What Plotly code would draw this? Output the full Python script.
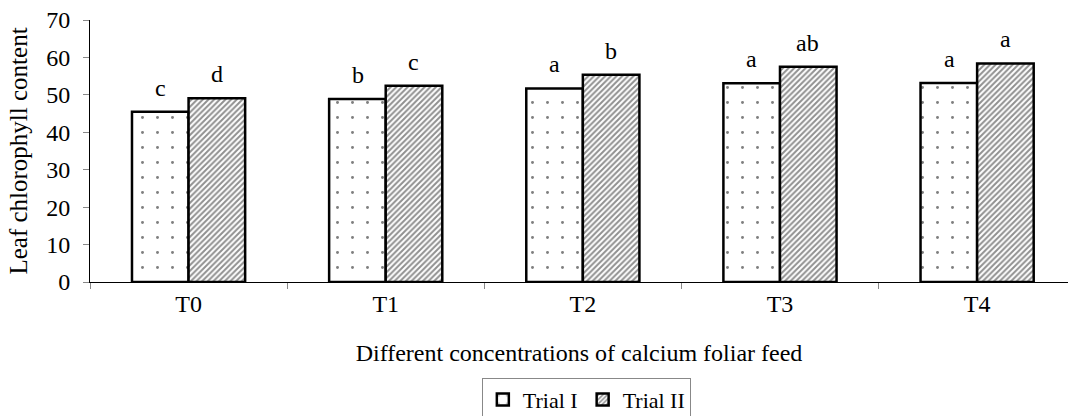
import plotly.graph_objects as go

treatments = ["T0", "T1", "T2", "T3", "T4"]
trial_1 = [45.5, 48.9, 51.7, 53.1, 53.2]
trial_2 = [49.1, 52.4, 55.4, 57.5, 58.4]
letters_1 = ["c", "b", "a", "a", "a"]
letters_2 = ["d", "c", "b", "ab", "a"]

serif = "Liberation Serif, Times New Roman, serif"

fig = go.Figure()

fig.add_trace(go.Bar(
    x=treatments, y=trial_1, name="Trial I",
    marker=dict(color="white", line=dict(color="black", width=2.5),
                pattern=dict(shape=".", fgcolor="black", bgcolor="white",
                             size=15, solidity=0.03))
))
fig.add_trace(go.Bar(
    x=treatments, y=trial_2, name="Trial II",
    marker=dict(color="white", line=dict(color="black", width=2.5),
                pattern=dict(shape="/", fgcolor="#222222", bgcolor="white",
                             size=4, solidity=0.5))
))

# significance letters
for i, t in enumerate(treatments):
    fig.add_annotation(x=t, y=trial_1[i], text=letters_1[i], xshift=-28, yshift=9,
                       yanchor="bottom", showarrow=False, font=dict(size=24, family=serif, color="black"))
    fig.add_annotation(x=t, y=trial_2[i], text=letters_2[i], xshift=28, yshift=9,
                       yanchor="bottom", showarrow=False, font=dict(size=24, family=serif, color="black"))

fig.update_layout(
    width=1068, height=416,
    margin=dict(l=90, r=0, t=20, b=134),
    plot_bgcolor="white", paper_bgcolor="white",
    barmode="group", bargap=0.426, bargroupgap=0,
    font=dict(family=serif, size=24, color="black"),
    legend=dict(orientation="h", x=0.549, xref="container", xanchor="center",
                y=0.092, yref="container", yanchor="top",
                bordercolor="#888888", borderwidth=1, font=dict(size=22, family=serif),
                itemwidth=30, tracegroupgap=0),
    showlegend=True,
)

fig.update_xaxes(
    range=[-0.5, 4.461], showline=True, linecolor="black", linewidth=1,
    ticks="outside", tickson="boundaries", ticklen=6, tickcolor="#888888",
    tickfont=dict(family=serif, size=24),
    showgrid=False,
    title=dict(text="Different concentrations of calcium foliar feed", standoff=28,
               font=dict(family=serif, size=24)),
)
fig.update_yaxes(
    range=[0, 70], dtick=10, showline=True, linecolor="black", linewidth=1,
    ticks="outside", ticklen=6, tickcolor="#888888", showgrid=False, zeroline=False,
    ticklabelstandoff=8,
    tickfont=dict(family=serif, size=24),
    title=dict(text="Leaf chlorophyll content", standoff=11, font=dict(family=serif, size=25)),
)

# remove the default page margin so the figure sits at the window's corner
fig.write_html("out.html", config={"displayModeBar": False},
               post_script="document.body.style.margin='0';")
